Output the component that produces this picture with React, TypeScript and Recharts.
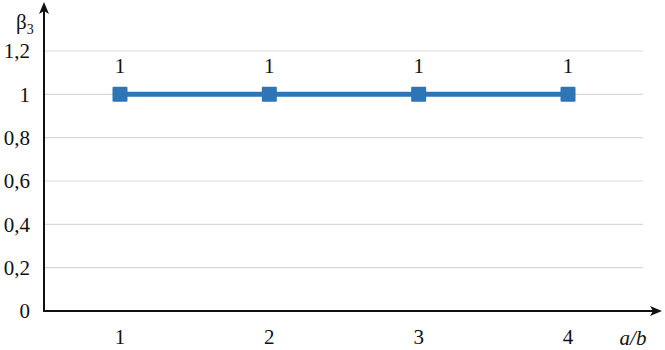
import React from "react";
import { LineChart, Line, XAxis, YAxis, CartesianGrid, LabelList } from "recharts";

// ratio a/b on the x axis, beta3 on the y axis
const categories = ["1", "2", "3", "4"];
const beta3 = [1, 1, 1, 1];
const yTicks = [0, 0.2, 0.4, 0.6, 0.8, 1, 1.2];

const W = 665;
const H = 350;
const M = { top: 51, right: 22, left: 0, bottom: 9 };
const Y_AXIS_W = 44;
const X_AXIS_H = 30;
const FONT = "Liberation Serif";

const data = categories.map((c, i) => ({ x: c, y: beta3[i] }));

function SquareDot(props: any) {
  const { cx, cy } = props;
  if (cx == null || cy == null) return null;
  return <rect x={cx - 7.5} y={cy - 7.5} width={15} height={15} fill="#2e75b6" rx={1} />;
}

export default function App() {
  const axisX = M.left + Y_AXIS_W;
  const axisY = H - M.bottom - X_AXIS_H;
  return (
    <div style={{ position: "absolute", left: 0, top: 0, width: W, height: H, background: "#fff" }}>
      <LineChart width={W} height={H} data={data} margin={M}>
        <CartesianGrid vertical={false} stroke="#d9d9d9" strokeWidth={1.2} />
        <XAxis
          dataKey="x"
          height={X_AXIS_H}
          axisLine={false}
          tickLine={false}
          tickSize={0}
          tickMargin={18}
          padding={{ left: 76, right: 75 }}
          tick={{ fontSize: 21, fill: "#111", style: { fontFamily: FONT } }}
        />
        <YAxis
          width={Y_AXIS_W}
          domain={[0, 1.2]}
          ticks={yTicks}
          axisLine={false}
          tickLine={false}
          tickSize={0}
          tickMargin={14}
          tickFormatter={(v: number) => String(v).replace(".", ",")}
          tick={{ fontSize: 21, fill: "#111", style: { fontFamily: FONT } }}
        />
        <Line
          dataKey="y"
          stroke="#2e75b6"
          strokeWidth={5}
          dot={<SquareDot />}
          activeDot={false}
          isAnimationActive={false}
        >
          <LabelList dataKey="y" position="top" offset={21} fill="#111" fontSize={21} style={{ fontFamily: FONT }} />
        </Line>
      </LineChart>
      <svg width={W} height={H} style={{ position: "absolute", left: 0, top: 0, pointerEvents: "none" }}>
        <line x1={axisX} y1={axisY} x2={axisX} y2={9} stroke="#111" strokeWidth={2} />
        <path d={`M${axisX - 5},${14} L${axisX},${2} L${axisX + 5},${14} L${axisX},${11} Z`} fill="#111" />
        <line x1={axisX - 1} y1={axisY} x2={W - 10} y2={axisY} stroke="#111" strokeWidth={2} />
        <path
          d={`M${W - 15},${axisY - 5} L${W - 3},${axisY} L${W - 15},${axisY + 5} L${W - 12},${axisY} Z`}
          fill="#111"
        />
        <text x={16} y={29} fontSize={21} fill="#111" style={{ fontFamily: FONT }}>
          β<tspan fontSize={14} dy={5}>3</tspan>
        </text>
        <text x={633} y={345} fontSize={21} fontStyle="italic" fill="#111" textAnchor="middle" style={{ fontFamily: FONT }}>
          a/b
        </text>
      </svg>
    </div>
  );
}
